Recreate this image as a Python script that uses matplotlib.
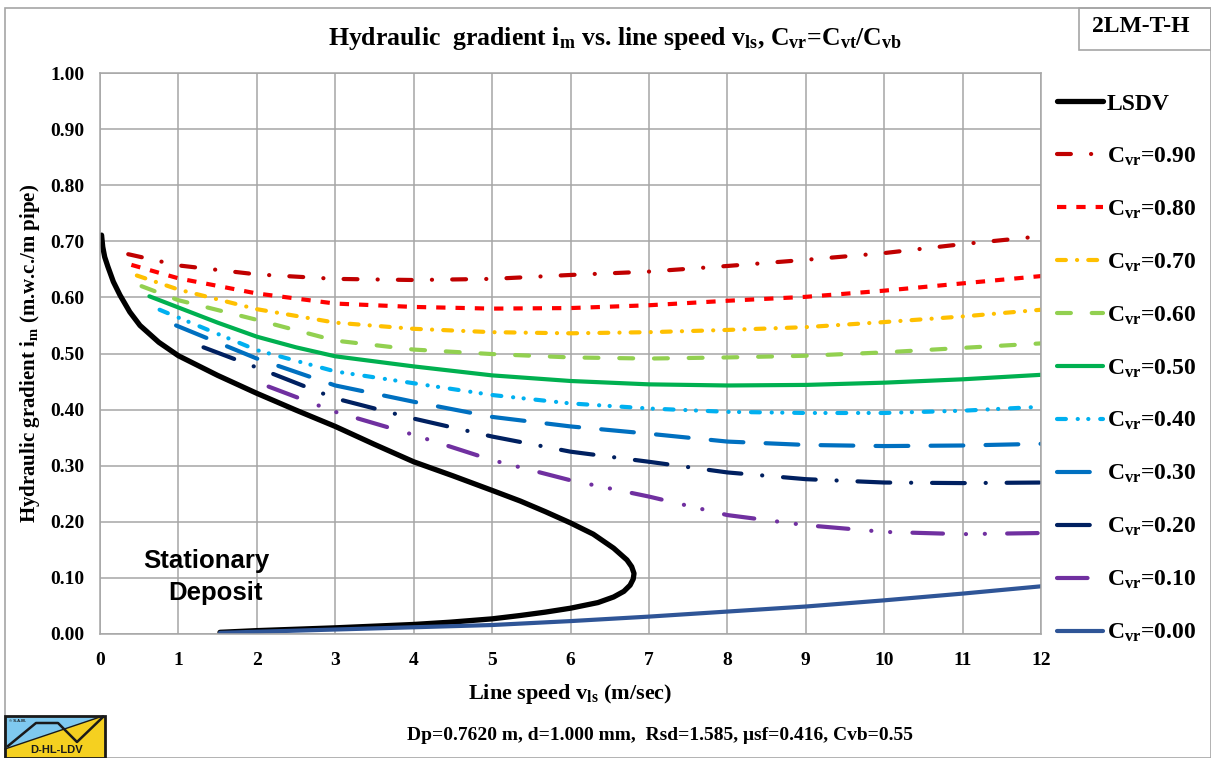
import matplotlib
matplotlib.use('Agg')
import matplotlib.pyplot as plt
from matplotlib.patches import Rectangle, Polygon
from matplotlib.lines import Line2D

plt.rcParams['font.family'] = ['Liberation Serif', 'DejaVu Serif']
plt.rcParams['font.weight'] = 'bold'
plt.rcParams['axes.labelweight'] = 'bold'
plt.rcParams['mathtext.fontset'] = 'custom'
plt.rcParams['mathtext.rm'] = 'Liberation Serif:bold'
plt.rcParams['mathtext.it'] = 'Liberation Serif:bold'
plt.rcParams['mathtext.bf'] = 'Liberation Serif:bold'
plt.rcParams['lines.scale_dashes'] = False

# ---------------- data ----------------
lsdv_x = [0.02, 0.035, 0.06, 0.10, 0.17, 0.255, 0.38, 0.51, 0.75, 1.0, 1.5, 2.0, 2.5, 3.0, 3.5,
          4.0, 4.5, 5.0, 5.36, 5.68, 6.0, 6.29, 6.55, 6.72, 6.78, 6.81, 6.80, 6.76, 6.68, 6.55,
          6.35, 6.0, 5.68, 5.36, 5.0, 4.46, 4.0, 3.0, 2.0, 1.53]
lsdv_y = [0.711, 0.690, 0.672, 0.655, 0.628, 0.604, 0.574, 0.550, 0.520, 0.496, 0.461, 0.429,
          0.399, 0.370, 0.338, 0.307, 0.282, 0.256, 0.237, 0.218, 0.198, 0.178, 0.153, 0.132,
          0.120, 0.108, 0.098, 0.087, 0.076, 0.066, 0.056, 0.046, 0.039, 0.033, 0.027, 0.021,
          0.017, 0.011, 0.006, 0.003]

x_int = [1, 2, 3, 4, 5, 6, 7, 8, 9, 10, 11, 12]

cvr90_x = [0.36] + x_int
cvr90_y = [0.677, 0.657, 0.641, 0.633, 0.631, 0.633, 0.640, 0.646, 0.656, 0.667, 0.679, 0.695, 0.709]
cvr80_x = [0.40] + x_int
cvr80_y = [0.658, 0.634, 0.607, 0.589, 0.583, 0.580, 0.581, 0.586, 0.594, 0.601, 0.612, 0.625, 0.638]
cvr70_x = [0.47] + x_int
cvr70_y = [0.639, 0.614, 0.579, 0.555, 0.544, 0.538, 0.536, 0.538, 0.542, 0.547, 0.556, 0.566, 0.578]
cvr60_x = [0.53] + x_int
cvr60_y = [0.620, 0.595, 0.560, 0.523, 0.507, 0.499, 0.493, 0.491, 0.493, 0.496, 0.502, 0.510, 0.518]
cvr50_x = [0.63, 1, 1.5, 2, 2.5, 3, 4, 5, 6, 7, 8, 9, 10, 11, 12]
cvr50_y = [0.602, 0.582, 0.555, 0.530, 0.511, 0.495, 0.477, 0.461, 0.451, 0.445, 0.443, 0.444,
           0.448, 0.454, 0.462]
cvr40_x = [0.76] + x_int
cvr40_y = [0.578, 0.564, 0.506, 0.468, 0.447, 0.426, 0.411, 0.402, 0.396, 0.394, 0.394, 0.398, 0.405]
cvr30_x = [0.97, 2, 3, 4, 5, 6, 7, 8, 9, 10, 11, 12]
cvr30_y = [0.550, 0.491, 0.443, 0.414, 0.387, 0.370, 0.357, 0.343, 0.337, 0.335, 0.336, 0.339]
cvr20_x = [1.32, 2, 3, 4, 5, 6, 7, 8, 9, 10, 11, 12]
cvr20_y = [0.511, 0.475, 0.420, 0.384, 0.352, 0.325, 0.307, 0.288, 0.276, 0.270, 0.269, 0.270]
cvr10_x = [2.15, 3, 4, 5, 6, 7, 8, 9, 10, 11, 12]
cvr10_y = [0.441, 0.396, 0.355, 0.310, 0.274, 0.245, 0.212, 0.194, 0.182, 0.178, 0.180]
cvr00_x = [1.53, 2, 3, 4, 5, 6, 7, 8, 9, 10, 11, 12]
cvr00_y = [0.002, 0.004, 0.008, 0.012, 0.016, 0.023, 0.031, 0.040, 0.049, 0.060, 0.072, 0.085]

labels = ['LSDV', r'C$_{\rm vr}$=0.90', r'C$_{\rm vr}$=0.80', r'C$_{\rm vr}$=0.70',
          r'C$_{\rm vr}$=0.60', r'C$_{\rm vr}$=0.50', r'C$_{\rm vr}$=0.40', r'C$_{\rm vr}$=0.30',
          r'C$_{\rm vr}$=0.20', r'C$_{\rm vr}$=0.10', r'C$_{\rm vr}$=0.00']
x_ticks = list(range(0, 13))
y_ticks = [0.0, 0.1, 0.2, 0.3, 0.4, 0.5, 0.6, 0.7, 0.8, 0.9, 1.0]

# ---------------- figure ----------------
W, H = 1211, 758
fig = plt.figure(figsize=(W / 100, H / 100), dpi=100)
ax = fig.add_axes([100 / W, 1 - 634 / H, 941 / W, 561 / H])

lw = 3.0
series = [
    (lsdv_x, lsdv_y, dict(color='black', lw=3.8, ls='-', solid_capstyle='round', solid_joinstyle='round')),
    (cvr90_x, cvr90_y, dict(color='#C00000', lw=lw, ls=(0, (10, 14.5, 0.1, 14.5)), dash_capstyle='round')),
    (cvr80_x, cvr80_y, dict(color='#FF0000', lw=lw, ls=(0, (6.7, 7.2)), dash_capstyle='butt')),
    (cvr70_x, cvr70_y, dict(color='#FFC000', lw=lw, ls=(0, (6.4, 8, 0.1, 8)), dash_capstyle='round')),
    (cvr60_x, cvr60_y, dict(color='#92D050', lw=lw, ls=(0, (10, 15)), dash_capstyle='round')),
    (cvr50_x, cvr50_y, dict(color='#00B050', lw=lw, ls='-', solid_capstyle='round', solid_joinstyle='round')),
    (cvr40_x, cvr40_y, dict(color='#00B0F0', lw=lw, ls=(0, (6.4, 8.5, 0.1, 7.5, 0.1, 8.5)), dash_capstyle='round')),
    (cvr30_x, cvr30_y, dict(color='#0070C0', lw=lw, ls=(0, (23.6, 16)), dash_capstyle='round')),
    (cvr20_x, cvr20_y, dict(color='#002060', lw=lw, ls=(0, (23.6, 15, 0.1, 15)), dash_capstyle='round')),
    (cvr10_x, cvr10_y, dict(color='#7030A0', lw=lw, ls=(0, (22, 16.5, 0.1, 13.5, 0.1, 16)), dash_capstyle='round')),
    (cvr00_x, cvr00_y, dict(color='#2F5597', lw=lw, ls='-', solid_capstyle='round', solid_joinstyle='round')),
]
handles = []
for (xs, ys, kw), lab in zip(series, labels):
    ln, = ax.plot(xs, ys, label=lab, **kw)
    handles.append(ln)

ax.set_xlim(0, 12)
ax.set_ylim(0, 1.0)
ax.set_xticks(x_ticks)
ax.set_yticks(y_ticks)
ax.set_yticklabels([f'{v:.2f}' for v in y_ticks])
ax.tick_params(axis='both', length=0, labelsize=14)
ax.tick_params(axis='y', pad=11)
ax.tick_params(axis='x', pad=13)
ax.grid(True, color='#A6A6A6', lw=1.1)
ax.set_axisbelow(True)
for s in ax.spines.values():
    s.set_color('#A6A6A6')
    s.set_linewidth(1.1)

ax.set_xlabel(r'Line speed v$_{\rm ls}$ (m/sec)', fontsize=16, labelpad=9)
ax.set_ylabel(r'Hydraulic gradient i$_{\rm m}$ (m.w.c./m pipe)', fontsize=15, labelpad=6)

ax.text(1.35, 0.13, 'Stationary', family='Liberation Sans', fontweight='bold', fontsize=18.5,
        ha='center', va='center')
ax.text(1.47, 0.073, 'Deposit', family='Liberation Sans', fontweight='bold', fontsize=18.5,
        ha='center', va='center')

fig.text(615 / W, 1 - 38 / H,
         r'Hydraulic  gradient i$_{\rm m}$ vs. line speed v$_{\rm ls}$, C$_{\rm vr}$=C$_{\rm vt}$/C$_{\rm vb}$',
         ha='center', va='center', fontsize=18.5)

leg = fig.legend(handles=handles, labels=labels, loc='upper left',
                 bbox_to_anchor=(1057 / W, 1 - 93 / H), frameon=False, fontsize=17,
                 handlelength=1.95, handletextpad=0.17, labelspacing=1.30, borderpad=0,
                 borderaxespad=0)

# bottom info text
fig.text(660 / W, 1 - 735 / H, 'Dp=0.7620 m, d=1.000 mm,  Rsd=1.585, \u03bcsf=0.416, Cvb=0.55',
         ha='center', va='center', fontsize=14)

# outer frame
fig.patches.append(Rectangle((5 / W, 0), 1 - 5 / W, 1 - 8 / H, transform=fig.transFigure,
                             fill=False, edgecolor='#A6A6A6', lw=1.2))
# code box
fig.patches.append(Rectangle((1079 / W, 1 - 50 / H), (W - 1079) / W, 42 / H, transform=fig.transFigure,
                             fill=False, edgecolor='#A6A6A6', lw=1.2))
fig.text(1141 / W, 1 - 27 / H, '2LM-T-H', ha='center', va='center', fontsize=17)

# logo
def P(x, y):
    return (x / W, 1 - y / H)

fig.patches.append(Polygon([P(5, 716), P(105, 716), P(105, 758), P(5, 758)], closed=True,
                           transform=fig.transFigure, facecolor='#F5D020', edgecolor='none'))
fig.patches.append(Polygon([P(5, 716), P(103, 716), P(5, 749)], closed=True,
                           transform=fig.transFigure, facecolor='#7FC9EF', edgecolor='none'))
fig.lines.append(Line2D([P(5, 749)[0], P(103, 716)[0]], [P(5, 749)[1], P(103, 716)[1]],
                        transform=fig.transFigure, color='#1a1a1a', lw=1.0))
zz = [P(8, 746), P(36, 723), P(58, 723), P(77, 742), P(103, 717)]
fig.lines.append(Line2D([p[0] for p in zz], [p[1] for p in zz], transform=fig.transFigure,
                        color='#1a1a1a', lw=1.8))
fig.patches.append(Rectangle(P(5, 758), 100 / W, 42 / H, transform=fig.transFigure,
                             fill=False, edgecolor='#1a1a1a', lw=2))
fig.text(57 / W, 1 - 750 / H, 'D-HL-LDV', family='Liberation Sans', fontweight='bold', fontsize=8,
         ha='center', va='center', color='#1a1a1a')
fig.text(9 / W, 1 - 721 / H, '\u00a9 S.A.M.', family='Liberation Sans', fontweight='bold', fontsize=3,
         ha='left', va='center', color='#1a1a1a')

fig.savefig('out.png', dpi=100)
